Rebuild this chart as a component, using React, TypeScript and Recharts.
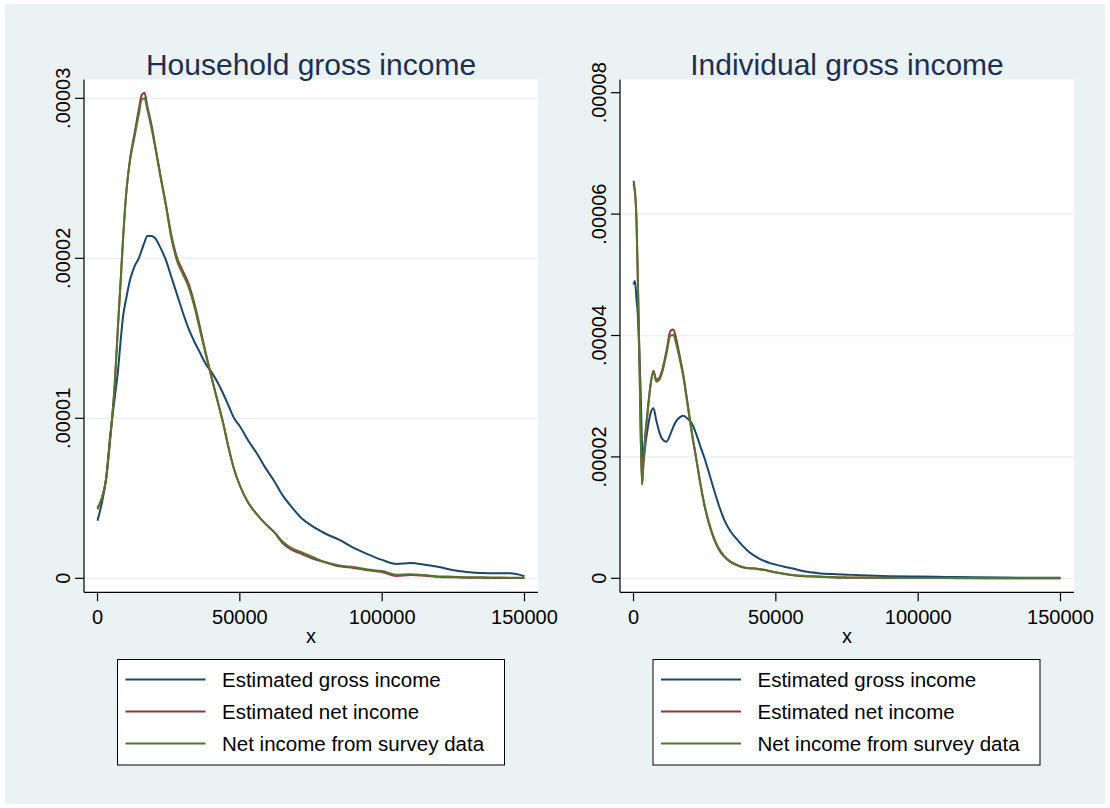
import React from "react";
import { LineChart, Line, XAxis, YAxis, CartesianGrid } from "recharts";

const FONT = "'Liberation Sans', Arial, Helvetica, sans-serif";

// Labels, colours and axis ticks
const panelTitles = ["Household gross income", "Individual gross income"];
const seriesNames = ["Estimated gross income", "Estimated net income", "Net income from survey data"];
const seriesKeys = ["gross", "net", "survey"];
const seriesColors = ["#1A476F", "#90353B", "#55752F"];
const xTicks = [0, 50000, 100000, 150000];
const householdYTicks = [0, 0.00001, 0.00002, 0.00003];
const householdGridValues = [0, 0.00001, 0.00002, 0.00003];
const individualYTicks = [0, 0.00002, 0.00004, 0.00006, 0.00008];
const individualGridValues = [0, 0.00002, 0.00004, 0.00006];

// Household income: kernel density estimates
const householdIncome = [
  0, 1500, 3000, 4500, 6000, 7200, 8200, 9000, 10200, 11500, 13000, 14500, 15500, 16500, 17500,
  19000, 20500, 22000, 24000, 26000, 28000, 30000, 32000, 34000, 36000, 38000, 40000, 42000, 44000,
  46000, 48000, 50000, 53000, 56000, 59000, 62000, 65000, 68000, 72000, 76000, 80000, 85000, 90000,
  95000, 100000, 105000, 110000, 115000, 120000, 125000, 130000, 135000, 140000, 145000, 150000,
];
const householdGross = [
  0.36e-5, 0.47e-5, 0.62e-5, 0.9e-5, 1.12e-5, 1.3e-5, 1.5e-5, 1.64e-5, 1.76e-5, 1.87e-5, 1.95e-5,
  2.0e-5, 2.05e-5, 2.1e-5, 2.14e-5, 2.14e-5, 2.12e-5, 2.07e-5, 1.99e-5, 1.88e-5, 1.77e-5, 1.66e-5,
  1.56e-5, 1.48e-5, 1.41e-5, 1.34e-5, 1.29e-5, 1.23e-5, 1.16e-5, 1.08e-5, 1.0e-5, 0.95e-5, 0.86e-5,
  0.78e-5, 0.69e-5, 0.61e-5, 0.52e-5, 0.45e-5, 0.37e-5, 0.32e-5, 0.28e-5, 0.24e-5, 0.19e-5, 0.15e-5,
  0.115e-5, 0.09e-5, 0.095e-5, 0.085e-5, 0.07e-5, 0.05e-5, 0.04e-5, 0.033e-5, 0.031e-5, 0.031e-5,
  0.013e-5,
];
const householdNet = [
  0.44e-5, 0.5e-5, 0.62e-5, 0.88e-5, 1.2e-5, 1.58e-5, 1.88e-5, 2.13e-5, 2.43e-5, 2.63e-5, 2.78e-5,
  2.93e-5, 3.02e-5, 3.035e-5, 2.95e-5, 2.83e-5, 2.68e-5, 2.53e-5, 2.34e-5, 2.14e-5, 2.0e-5, 1.92e-5,
  1.84e-5, 1.72e-5, 1.57e-5, 1.41e-5, 1.26e-5, 1.12e-5, 0.98e-5, 0.82e-5, 0.68e-5, 0.58e-5, 0.47e-5,
  0.4e-5, 0.34e-5, 0.29e-5, 0.22e-5, 0.18e-5, 0.15e-5, 0.12e-5, 0.1e-5, 0.075e-5, 0.065e-5, 0.05e-5,
  0.04e-5, 0.015e-5, 0.02e-5, 0.016e-5, 0.008e-5, 0.006e-5, 0.004e-5, 0.003e-5, 0.002e-5, 0.002e-5,
  0.002e-5,
];
const householdSurvey = [
  0.43e-5, 0.5e-5, 0.62e-5, 0.88e-5, 1.2e-5, 1.58e-5, 1.88e-5, 2.13e-5, 2.43e-5, 2.62e-5, 2.76e-5,
  2.9e-5, 2.99e-5, 3.0e-5, 2.93e-5, 2.81e-5, 2.67e-5, 2.52e-5, 2.33e-5, 2.12e-5, 1.98e-5, 1.9e-5,
  1.82e-5, 1.7e-5, 1.55e-5, 1.4e-5, 1.26e-5, 1.12e-5, 0.98e-5, 0.82e-5, 0.68e-5, 0.58e-5, 0.47e-5,
  0.4e-5, 0.34e-5, 0.29e-5, 0.23e-5, 0.19e-5, 0.16e-5, 0.13e-5, 0.1e-5, 0.08e-5, 0.07e-5, 0.055e-5,
  0.045e-5, 0.022e-5, 0.025e-5, 0.02e-5, 0.012e-5, 0.01e-5, 0.007e-5, 0.006e-5, 0.005e-5, 0.004e-5,
  0.004e-5,
];

// Individual income: kernel density estimates
const individualIncome = [
  0, 500, 1000, 1500, 2000, 2500, 3000, 3500, 4000, 5000, 6000, 7000, 8000, 9000, 10000, 11500,
  13000, 14000, 15000, 16500, 17500, 19000, 20500, 22000, 23500, 25000, 26500, 28000, 30000, 32000,
  34000, 36000, 38000, 40000, 42000, 44000, 46000, 48000, 50000, 53000, 56000, 60000, 65000, 70000,
  75000, 80000, 90000, 100000, 110000, 120000, 130000, 140000, 150000,
];
const individualGross = [
  4.84e-5, 4.9e-5, 4.62e-5, 4.35e-5, 3.75e-5, 3.1e-5, 2.2e-5, 1.93e-5, 2.14e-5, 2.48e-5, 2.72e-5,
  2.8e-5, 2.6e-5, 2.42e-5, 2.3e-5, 2.25e-5, 2.38e-5, 2.5e-5, 2.59e-5, 2.66e-5, 2.68e-5, 2.63e-5,
  2.55e-5, 2.38e-5, 2.17e-5, 1.97e-5, 1.74e-5, 1.5e-5, 1.2e-5, 0.95e-5, 0.78e-5, 0.66e-5, 0.55e-5,
  0.46e-5, 0.385e-5, 0.33e-5, 0.285e-5, 0.25e-5, 0.225e-5, 0.19e-5, 0.16e-5, 0.115e-5, 0.085e-5,
  0.07e-5, 0.06e-5, 0.05e-5, 0.035e-5, 0.028e-5, 0.022e-5, 0.016e-5, 0.012e-5, 0.01e-5, 0.01e-5,
];
const individualNet = [
  6.55e-5, 6.38e-5, 5.97e-5, 4.97e-5, 3.82e-5, 2.45e-5, 1.55e-5, 1.92e-5, 2.28e-5, 2.78e-5, 3.2e-5,
  3.42e-5, 3.27e-5, 3.3e-5, 3.42e-5, 3.73e-5, 4.08e-5, 4.1e-5, 3.94e-5, 3.6e-5, 3.35e-5, 2.88e-5,
  2.4e-5, 1.98e-5, 1.55e-5, 1.18e-5, 0.9e-5, 0.68e-5, 0.47e-5, 0.35e-5, 0.27e-5, 0.22e-5, 0.185e-5,
  0.165e-5, 0.16e-5, 0.15e-5, 0.135e-5, 0.115e-5, 0.095e-5, 0.07e-5, 0.05e-5, 0.035e-5, 0.025e-5,
  0.015e-5, 0.01e-5, 0.008e-5, 0.005e-5, 0.004e-5, 0.003e-5, 0.002e-5, 0.002e-5, 0.001e-5, 0.001e-5,
];
const individualSurvey = [
  6.5e-5, 6.35e-5, 5.95e-5, 4.95e-5, 3.8e-5, 2.45e-5, 1.54e-5, 1.9e-5, 2.25e-5, 2.75e-5, 3.18e-5,
  3.4e-5, 3.24e-5, 3.27e-5, 3.38e-5, 3.68e-5, 4.0e-5, 4.01e-5, 3.86e-5, 3.55e-5, 3.32e-5, 2.85e-5,
  2.39e-5, 1.98e-5, 1.56e-5, 1.2e-5, 0.92e-5, 0.7e-5, 0.49e-5, 0.36e-5, 0.28e-5, 0.23e-5, 0.19e-5,
  0.17e-5, 0.165e-5, 0.155e-5, 0.14e-5, 0.12e-5, 0.1e-5, 0.075e-5, 0.055e-5, 0.04e-5, 0.03e-5,
  0.02e-5, 0.015e-5, 0.012e-5, 0.008e-5, 0.006e-5, 0.004e-5, 0.003e-5, 0.002e-5, 0.002e-5, 0.002e-5,
];

type Row = { x: number; gross: number; net: number; survey: number };

function buildRows(x: number[], gross: number[], net: number[], survey: number[]): Row[] {
  return x.map((v, i) => ({ x: v, gross: gross[i], net: net[i], survey: survey[i] }));
}

const householdRows = buildRows(householdIncome, householdGross, householdNet, householdSurvey);
const individualRows = buildRows(individualIncome, individualGross, individualNet, individualSurvey);

const formatDensity = (v: number) => (v === 0 ? "0" : v.toFixed(5).replace(/^0/, ""));

// Vertical (rotated) density tick labels, baseline next to the tick mark
const DensityTick = (props: any) => {
  const { x, y, payload } = props;
  return (
    <text
      x={x}
      y={y}
      transform={`rotate(-90 ${x} ${y})`}
      textAnchor="middle"
      fontSize={20}
      fontFamily={FONT}
      fill="#000"
    >
      {formatDensity(payload.value)}
    </text>
  );
};

type PanelProps = {
  left: number;
  rows: Row[];
  yTicks: number[];
  yDomain: [number, number];
  gridValues: number[];
};

function DensityPanel({ left, rows, yTicks, yDomain, gridValues }: PanelProps) {
  return (
    <div style={{ position: "absolute", left, top: 0 }}>
      <LineChart
        width={560}
        height={660}
        data={rows}
        margin={{ top: 79.6, right: 22, bottom: 7.7, left: 0 }}
      >
        <CartesianGrid
          vertical={false}
          horizontalValues={gridValues}
          stroke="#EAF2F3"
          strokeWidth={1.5}
          fill="#FFFFFF"
          fillOpacity={1}
        />
        <XAxis
          type="number"
          dataKey="x"
          domain={[-4750, 154750]}
          ticks={xTicks}
          allowDataOverflow
          interval={0}
          height={60}
          tickSize={9}
          tickMargin={8.5}
          stroke="#000"
          strokeWidth={1.2}
          tick={{ fontSize: 20, fill: "#000", fontFamily: FONT }}
          label={{ value: "x", position: "insideBottom", offset: 9.3, fontSize: 20, fill: "#000", fontFamily: FONT }}
        />
        <YAxis
          type="number"
          domain={yDomain}
          ticks={yTicks}
          allowDataOverflow
          interval={0}
          width={84}
          tickSize={9}
          tickMargin={5}
          stroke="#000"
          strokeWidth={1.2}
          tick={<DensityTick />}
        />
        {seriesKeys.map((key, i) => (
          <Line
            key={key}
            type="monotone"
            dataKey={key}
            name={seriesNames[i]}
            stroke={seriesColors[i]}
            strokeWidth={2}
            dot={false}
            activeDot={false}
            isAnimationActive={false}
          />
        ))}
      </LineChart>
    </div>
  );
}

function LegendBox({ left }: { left: number }) {
  const top = 659.5;
  const rowY = [679.5, 711.5, 743.5];
  return (
    <g>
      <rect x={left} y={top} width={387} height={105.5} fill="#FFFFFF" stroke="#000" strokeWidth={1} />
      {seriesNames.map((name, i) => (
        <g key={name}>
          <line x1={left + 8} x2={left + 88} y1={rowY[i]} y2={rowY[i]} stroke={seriesColors[i]} strokeWidth={2} />
          <text x={left + 104.5} y={rowY[i] + 7.3} fontSize={20.5} fontFamily={FONT} fill="#000">
            {name}
          </text>
        </g>
      ))}
    </g>
  );
}

export default function App() {
  return (
    <div
      style={{
        position: "absolute",
        left: 0,
        top: 0,
        width: 1110,
        height: 808,
        background: "#FFFFFF",
        overflow: "hidden",
        fontFamily: FONT,
      }}
    >
      <div style={{ position: "absolute", left: 5, top: 4, width: 1100, height: 800, background: "#EAF2F3" }} />
      <DensityPanel
        left={0}
        rows={householdRows}
        yTicks={householdYTicks}
        yDomain={[-0.000000875, 0.00003117]}
        gridValues={householdGridValues}
      />
      <DensityPanel
        left={536}
        rows={individualRows}
        yTicks={individualYTicks}
        yDomain={[-0.000002306, 0.00008216]}
        gridValues={individualGridValues}
      />
      <svg
        width={1110}
        height={808}
        style={{ position: "absolute", left: 0, top: 0, pointerEvents: "none" }}
      >
        <text x={311} y={75} textAnchor="middle" fontSize={30} fontFamily={FONT} fill="#1E2F56">
          {panelTitles[0]}
        </text>
        <text x={847} y={75} textAnchor="middle" fontSize={30} fontFamily={FONT} fill="#1E2F56">
          {panelTitles[1]}
        </text>
        <LegendBox left={117.5} />
        <LegendBox left={653} />
      </svg>
    </div>
  );
}
